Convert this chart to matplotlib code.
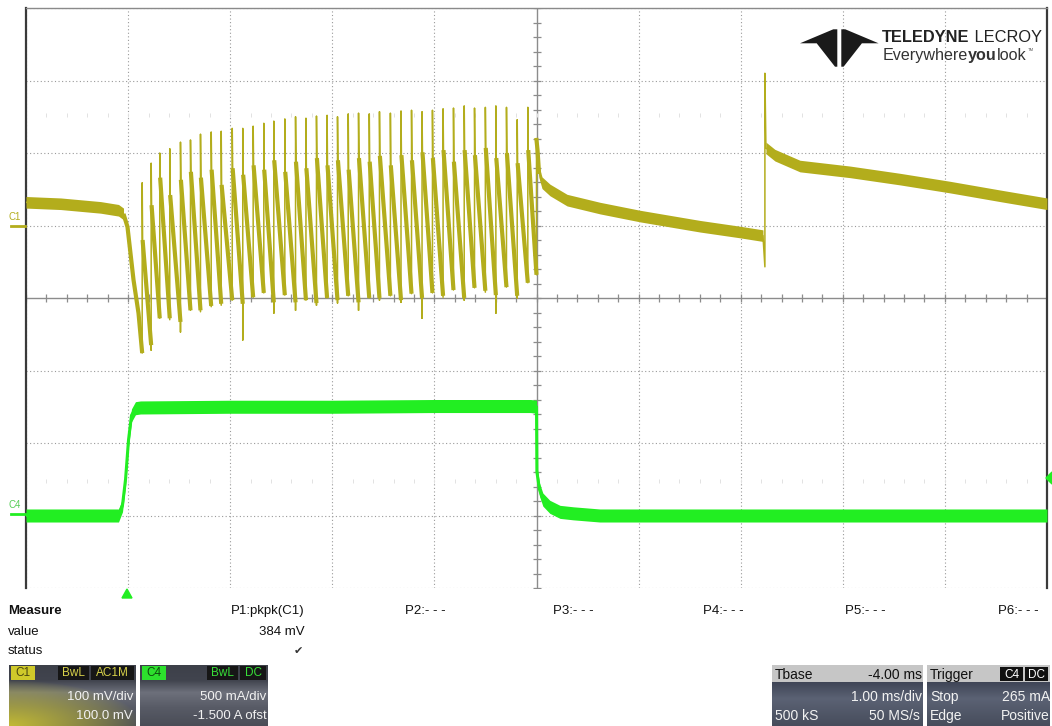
import numpy as np
import matplotlib
matplotlib.use('Agg')
import matplotlib.pyplot as plt
from matplotlib.patches import Polygon, Rectangle
from matplotlib.collections import LineCollection

# ---------------- data ----------------
# C1 (100 mV/div, offset 100 mV), time in ms relative to trigger
c1_pre_t = [-1.0, -0.66, -0.27, -0.094, -0.045]
c1_pre_mv = [32, 30, 25, 21, 16]
c1_drop_t = [-0.045, -0.006, 0.053, 0.102]
c1_drop_mv = [16, -2, -75, -121]

spike_t = [0.138, 0.226, 0.310, 0.408, 0.513, 0.611, 0.709, 0.814, 0.912, 1.020,
           1.123, 1.225, 1.329, 1.427, 1.535, 1.640, 1.742, 1.845, 1.949, 2.051,
           2.156, 2.257, 2.362, 2.462, 2.569, 2.673, 2.776, 2.879, 2.981, 3.085,
           3.187, 3.292, 3.393, 3.499, 3.602, 3.706, 3.811, 3.915]
spike_top = [59, 86, 100, 106, 115, 118, 126, 129, 130, 134,
             134, 137, 141, 144, 147, 150, 148, 151, 152, 150,
             154, 155, 154, 157, 155, 158, 159, 157, 159, 161,
             162, 165, 162, 163, 165, 163, 146, 163]
spike_low = [-176, -172, -128, -130, -147, -117, -119, -112, -110, -103,
             -158, -99, -93, -121, -96, -117, -103, -110, -100, -107,
             -97, -117, -100, -103, -97, -106, -94, -128, -93, -99,
             -89, -103, -86, -92, -121, -85, -100, -79]
ramp_start = [-20, 28, 66, 42, 63, 74, 66, 77, 56, 79,
              70, 83, 77, 90, 74, 88, 79, 93, 83, 90,
              77, 93, 88, 96, 83, 97, 90, 101, 93, 104,
              88, 104, 97, 107, 93, 100, 86, 104]
ramp_end = [-165, -128, -128, -133, -117, -117, -111, -108, -103, -108,
            -99, -93, -106, -96, -106, -103, -107, -100, -103, -97,
            -106, -100, -100, -97, -103, -94, -100, -93, -97, -89,
            -100, -86, -90, -96, -85, -97, -79, -68]
pulse_end_t = 4.0

c1_post1_t = [4.0, 4.010, 4.024, 4.054, 4.132, 4.299, 4.622, 5.014, 5.601, 5.993, 6.218]
c1_post1_mv = [118, 104, 74, 59, 49, 35, 24, 13, -1, -9, -14]
c1_jump_t = 6.237
c1_jump_low = -57
c1_jump_top = 210
c1_post2_t = [6.247, 6.335, 6.580, 7.070, 7.560, 8.049, 8.539, 9.0]
c1_post2_mv = [107, 97, 82, 74, 64, 53, 41, 30]

# C4 (500 mA/div, offset -1.5 A)
c4_t = [-1.0, -0.094, -0.055, -0.025, 0.004, 0.033, 0.072, 0.121, 1.0, 2.0, 3.0,
        3.941, 4.0, 4.004, 4.029, 4.062, 4.13, 4.23, 4.36, 4.62, 6.0, 9.0]
c4_amp = [0.0, 0.0, 0.07, 0.25, 0.52, 0.69, 0.74, 0.745, 0.75, 0.75, 0.755,
          0.755, 0.75, 0.30, 0.18, 0.11, 0.06, 0.025, 0.015, 0.0, 0.0, 0.0]

measure_labels = ["P1:pkpk(C1)", "P2:- - -", "P3:- - -", "P4:- - -", "P5:- - -", "P6:- - -"]
measure_value = "384 mV"

# ---------------- styling ----------------
W, H = 1052, 726
FONT = ['Liberation Sans', 'DejaVu Sans']
plt.rcParams['font.family'] = FONT
C1COL = '#b3ad1c'
C4COL = '#22ee22'
GRID = '#9a9a9a'

fig = plt.figure(figsize=(W / 100, H / 100), dpi=100)
fig.patch.set_facecolor('white')


def fx(x):
    return x / W


def fy(y):
    return 1 - y / H


ax = fig.add_axes([fx(26), fy(588), (1047 - 26) / W, 580 / H])
ax.set_xlim(-1, 9)
ax.set_ylim(-500, 300)
ax.set_xticks([])
ax.set_yticks([])
ax4 = ax.twinx()
ax4.set_ylim(-0.5, 3.5)
ax4.set_yticks([])
ax4.patch.set_visible(False)
for s in ax4.spines.values():
    s.set_visible(False)
ax.spines['bottom'].set_visible(False)
ax.spines['top'].set_color('#8a8a8a')
ax.spines['top'].set_linewidth(1.0)
ax.spines['left'].set_color('#3a3a3a')
ax.spines['left'].set_linewidth(1.6)
ax.spines['right'].set_color('#3a3a3a')
ax.spines['right'].set_linewidth(1.6)

# graticule
for t in range(-1, 10):
    if t != 4:
        ax.axvline(t, color=GRID, lw=0.8, ls=(0, (1, 2.2)), zorder=0)
for v in range(-500, 301, 100):
    if v != -100:
        ax.axhline(v, color=GRID, lw=0.8, ls=(0, (1, 2.2)), zorder=0)
ax.axvline(4, color='#8c8c8c', lw=1.0, zorder=0)
ax.axhline(-100, color='#8c8c8c', lw=1.0, zorder=0)
tx = np.arange(-1, 9.001, 0.2)
ax.plot(tx, np.full_like(tx, -100.0), ls='none', marker='|', ms=6, mew=0.9, color='#8c8c8c', zorder=0)
vy = np.arange(-500, 300.1, 20)
ax.plot(np.full_like(vy, 4.0), vy, ls='none', marker='_', ms=6, mew=0.9, color='#8c8c8c', zorder=0)
# faint marker rows
ax.plot(tx, np.full_like(tx, 152.0), ls='none', marker='|', ms=2.5, mew=0.7, color='#e2e2e2', zorder=0)
ax.plot(tx, np.full_like(tx, -352.0), ls='none', marker='|', ms=2.5, mew=0.7, color='#e2e2e2', zorder=0)

# ---------------- C4 trace ----------------
BAND4 = 0.045
c4t = np.array(c4_t)
c4a = np.array(c4_amp)
ax4.fill_between(c4t, c4a - BAND4, c4a + BAND4, color=C4COL, lw=0, zorder=3)
ax4.plot(c4t, c4a, color=C4COL, lw=2.2, zorder=3)

# ---------------- C1 trace ----------------
BAND1 = 8.0
DT = 0.004
ax.fill_between(c1_pre_t, np.array(c1_pre_mv) - BAND1, np.array(c1_pre_mv) + BAND1,
                color=C1COL, lw=0, zorder=4)
ax.fill_between(c1_post1_t[1:], np.array(c1_post1_mv[1:]) - BAND1, np.array(c1_post1_mv[1:]) + BAND1,
                color=C1COL, lw=0, zorder=4)
ax.fill_between(c1_post2_t, np.array(c1_post2_mv) - BAND1, np.array(c1_post2_mv) + BAND1,
                color=C1COL, lw=0, zorder=4)

# thin polyline through the whole record
pts_t = list(c1_pre_t) + list(c1_drop_t[1:])
pts_v = list(c1_pre_mv) + list(c1_drop_mv[1:])
ramps = [[(c1_drop_t[i], c1_drop_mv[i]) for i in range(len(c1_drop_t))] + [(spike_t[0], spike_low[0])]]
n = len(spike_t)
for k in range(n):
    t_next = spike_t[k + 1] if k + 1 < n else pulse_end_t
    pts_t += [spike_t[k], spike_t[k], spike_t[k] + DT, t_next]
    pts_v += [spike_low[k], spike_top[k], ramp_start[k], ramp_end[k]]
    ramps.append([(spike_t[k] + DT, ramp_start[k]), (t_next, ramp_end[k])])
pts_t += list(c1_post1_t) + [c1_jump_t, c1_jump_t] + list(c1_post2_t)
pts_v += list(c1_post1_mv) + [c1_jump_low, c1_jump_top] + list(c1_post2_mv)
ax.plot(pts_t, pts_v, color=C1COL, lw=1.1, zorder=5)
ax.add_collection(LineCollection(ramps, colors=C1COL, linewidths=3.0, zorder=5, capstyle='butt'))
ax.plot(c1_post1_t[:3], c1_post1_mv[:3], color=C1COL, lw=3.0, zorder=5)

# ---------------- channel markers ----------------
fig.text(fx(15), fy(217), 'C1', color=C1COL, fontsize=7, ha='center', va='center')
fig.add_artist(plt.Line2D([fx(11), fx(25)], [fy(226), fy(226)], color=C1COL, lw=2))
fig.text(fx(15), fy(505), 'C4', color='#55cc55', fontsize=7, ha='center', va='center')
fig.add_artist(plt.Line2D([fx(11), fx(25)], [fy(514), fy(514)], color=C4COL, lw=2))
fig.add_artist(Polygon([(fx(122), fy(598)), (fx(132), fy(598)), (fx(127), fy(589))],
                       closed=True, color=C4COL, transform=fig.transFigure))
fig.add_artist(Polygon([(fx(1052), fy(472)), (fx(1052), fy(484)), (fx(1046), fy(478))],
                       closed=True, color=C4COL, transform=fig.transFigure))

# ---------------- logo ----------------
left_wing = [(800, 43.3), (833.3, 29.3), (837.3, 29.3), (837.3, 66.7), (835, 66.7), (816.7, 43.3)]
cx = 839.3
for poly in (left_wing, [(2 * cx - x, y) for x, y in left_wing]):
    fig.add_artist(Polygon([(fx(x), fy(y)) for x, y in poly], closed=True, color='#1a1a1a',
                           transform=fig.transFigure, lw=0))
fig.canvas.draw()
rend = fig.canvas.get_renderer()


def run_text(x, y, parts, size, color='#222222', stretch=1.0):
    xpos = x
    for s, weight in parts:
        t = fig.text(fx(xpos), fy(y), s, fontsize=size, fontweight=weight, color=color,
                     ha='left', va='baseline')
        bb = t.get_window_extent(renderer=rend)
        xpos += bb.width
    return xpos


run_text(882, 42, [('TELEDYNE', 'bold'), (' LECROY', 'normal')], 11.8)
xe = run_text(883, 60, [('Everywhere', 'normal'), ('you', 'bold'), ('look', 'normal')], 11.6, '#333333')
fig.text(fx(xe + 1), fy(51), 'TM', fontsize=3, color='#555555', ha='left', va='baseline')

# ---------------- measurement table ----------------
FS = 9.5
fig.text(fx(8), fy(611), 'Measure', fontsize=FS, fontweight='bold', ha='left', va='center', color='#111111')
fig.text(fx(8), fy(632), 'value', fontsize=FS, ha='left', va='center', color='#111111')
fig.text(fx(8), fy(651), 'status', fontsize=FS, ha='left', va='center', color='#111111')
fig.text(fx(305), fy(611), measure_labels[0], fontsize=FS, ha='right', va='center', color='#111111')
fig.text(fx(305), fy(632), measure_value, fontsize=FS, ha='right', va='center', color='#111111')
fig.text(fx(298), fy(651), '\u2714', fontsize=8, ha='center', va='center', color='#333333',
         family=['DejaVu Sans'])
for lab, x in zip(measure_labels[1:], [405, 553, 703, 845, 998]):
    fig.text(fx(x), fy(611), lab, fontsize=FS, ha='left', va='center', color='#111111')


# ---------------- info boxes ----------------
def hexrgb(h):
    h = h.lstrip('#')
    return np.array([int(h[i:i + 2], 16) / 255 for i in (0, 2, 4)])


def gradient_box(x0, x1, y0, y1, stops, glow=None):
    w, h = x1 - x0, y1 - y0
    yy = np.linspace(0, 1, h)
    pos = [p for p, c in stops]
    cols = np.array([hexrgb(c) for p, c in stops])
    col = np.stack([np.interp(yy, pos, cols[:, i]) for i in range(3)], axis=1)
    img = np.repeat(col[:, None, :], w, axis=1)
    if glow is not None:
        gx, gy = np.meshgrid(np.linspace(0, 1, w), np.linspace(0, 1, h))
        d = np.sqrt((gx / glow[0]) ** 2 + ((1 - gy) / glow[1]) ** 2)
        wgt = np.clip(1 - d, 0, 1)[..., None] ** 0.8
        img = img * (1 - wgt) + hexrgb(glow[2]) * wgt
    a = fig.add_axes([fx(x0), fy(y1), w / W, h / H])
    a.imshow(img, aspect='auto', interpolation='bilinear')
    a.set_axis_off()


def tag(x0, x1, y0, y1, bg, text, tc, size=8.5):
    fig.add_artist(Rectangle((fx(x0), fy(y1)), (x1 - x0) / W, (y1 - y0) / H, color=bg,
                             transform=fig.transFigure, lw=0))
    fig.text(fx((x0 + x1) / 2), fy((y0 + y1) / 2 + 0.5), text, fontsize=size, color=tc,
             ha='center', va='center')


chan_stops = [(0.0, '#3d4049'), (0.25, '#41444e'), (0.45, '#6d707b'), (0.7, '#585b66'), (1.0, '#4a4d57')]
gradient_box(9, 136, 665, 726, chan_stops, glow=(1.05, 0.75, '#c2ba35'))
gradient_box(140, 268, 665, 726, chan_stops)
info_stops = [(0.0, '#c6c6c6'), (0.27, '#c6c6c6'), (0.28, '#3f4556'), (0.55, '#5b6274'), (1.0, '#474d5c')]
gradient_box(772, 923, 665, 726, info_stops)
gradient_box(927, 1050, 665, 726, info_stops)

tag(11, 35, 666, 680, '#cfc92a', 'C1', '#4a4710')
tag(58, 89, 666, 680, '#161616', 'BwL', '#d8d24a')
tag(91, 134, 666, 680, '#161616', 'AC1M', '#d8d24a')
tag(142, 166, 666, 680, '#2de02d', 'C4', '#0e4a0e')
tag(207, 238, 666, 680, '#161616', 'BwL', '#38e038')
tag(240, 266, 666, 680, '#161616', 'DC', '#38e038')
tag(1000, 1023, 667, 681, '#111111', 'C4', '#ffffff')
tag(1025, 1048, 667, 681, '#111111', 'DC', '#ffffff')

WT = '#f2f2f2'
fig.text(fx(133), fy(697), '100 mV/div', fontsize=FS, color=WT, ha='right', va='center')
fig.text(fx(133), fy(716), '100.0 mV', fontsize=FS, color=WT, ha='right', va='center')
fig.text(fx(266), fy(697), '500 mA/div', fontsize=FS, color=WT, ha='right', va='center')
fig.text(fx(267), fy(716), '-1.500 A ofst', fontsize=FS, color=WT, ha='right', va='center')

fig.text(fx(775), fy(675), 'Tbase', fontsize=FS + 0.5, color='#111111', ha='left', va='center')
fig.text(fx(922), fy(675), '-4.00 ms', fontsize=FS + 0.5, color='#111111', ha='right', va='center')
fig.text(fx(922), fy(697), '1.00 ms/div', fontsize=FS + 0.5, color=WT, ha='right', va='center')
fig.text(fx(775), fy(716), '500 kS', fontsize=FS + 0.5, color=WT, ha='left', va='center')
fig.text(fx(920), fy(716), '50 MS/s', fontsize=FS + 0.5, color=WT, ha='right', va='center')

fig.text(fx(930), fy(675), 'Trigger', fontsize=FS + 0.5, color='#111111', ha='left', va='center')
fig.text(fx(930), fy(697), 'Stop', fontsize=FS + 0.5, color=WT, ha='left', va='center')
fig.text(fx(1050), fy(697), '265 mA', fontsize=FS + 0.5, color=WT, ha='right', va='center')
fig.text(fx(930), fy(716), 'Edge', fontsize=FS + 0.5, color=WT, ha='left', va='center')
fig.text(fx(1050), fy(716), 'Positive', fontsize=FS + 0.5, color=WT, ha='right', va='center')

fig.savefig('out.png', dpi=100, facecolor='white')
